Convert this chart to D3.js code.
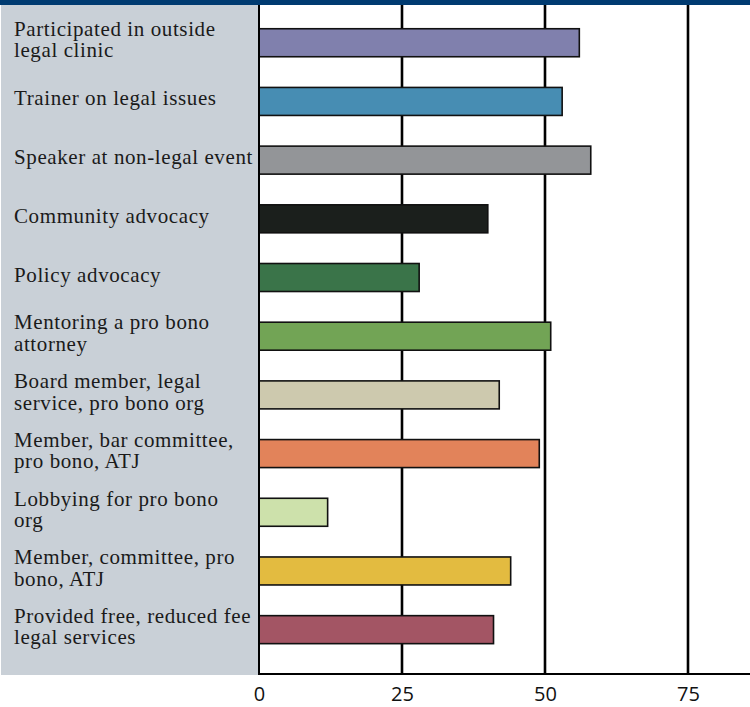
<!DOCTYPE html>
<html>
<head>
<meta charset="utf-8">
<script src="https://cdn.jsdelivr.net/npm/d3@7"></script>
<style>
  html, body { margin: 0; padding: 0; background: #ffffff; }
  svg { display: block; }
</style>
</head>
<body>
<svg id="chart" width="750" height="707"></svg>
<script>
const categories = [
  "Participated in outside|legal clinic",
  "Trainer on legal issues",
  "Speaker at non-legal event",
  "Community advocacy",
  "Policy advocacy",
  "Mentoring a pro bono|attorney",
  "Board member, legal|service, pro bono org",
  "Member, bar committee,|pro bono, ATJ",
  "Lobbying for pro bono|org",
  "Member, committee, pro|bono, ATJ",
  "Provided free, reduced fee|legal services"
];
const values = [56, 53, 58, 40, 28, 51, 42, 49, 12, 44, 41];
const colors = ["#8080ad", "#478db3", "#939598", "#1b1f1c", "#3a7449", "#72a455",
                "#cdc9ae", "#e2835a", "#cde1ab", "#e3bb40", "#a35564"];
const tickValues = [0, 25, 50, 75];

const svg = d3.select("#chart");
const W = 750, H = 707;
const plotLeft = 259, plotRight = 750, plotTop = 5, plotBottom = 674;

const x = d3.scaleLinear().domain([0, 85.84]).range([plotLeft, plotRight]);
const y = d3.scaleBand().domain(d3.range(categories.length)).range([13.4, 659]).paddingInner(0.523).paddingOuter(0.2615);

// label panel
svg.append("rect").attr("x", 1).attr("y", plotTop).attr("width", plotLeft - 1).attr("height", plotBottom + 1 - plotTop)
  .attr("fill", "#c9d0d7");

// gridlines
svg.append("g").selectAll("line").data(tickValues.filter(d => d > 0)).join("line")
  .attr("x1", d => x(d)).attr("x2", d => x(d))
  .attr("y1", plotTop).attr("y2", plotBottom)
  .attr("stroke", "#000").attr("stroke-width", 2.6);

// bars
svg.append("g").selectAll("rect").data(values).join("rect")
  .attr("x", x(0))
  .attr("y", (d, i) => y(i))
  .attr("width", d => x(d) - x(0))
  .attr("height", y.bandwidth())
  .attr("fill", (d, i) => colors[i])
  .attr("stroke", "#111")
  .attr("stroke-width", 1.6);

// axis lines
svg.append("line").attr("x1", x(0)).attr("x2", x(0)).attr("y1", plotTop).attr("y2", plotBottom)
  .attr("stroke", "#000").attr("stroke-width", 2);
svg.append("line").attr("x1", x(0) - 1).attr("x2", plotRight).attr("y1", plotBottom).attr("y2", plotBottom)
  .attr("stroke", "#000").attr("stroke-width", 2.2);

// top bar
svg.append("rect").attr("x", 0).attr("y", 0).attr("width", W).attr("height", 5).attr("fill", "#003b71");

// x axis labels
const xAxis = d3.axisBottom(x).tickValues(tickValues).tickSize(0).tickPadding(0).tickFormat(d3.format("d"));
const gx = svg.append("g").attr("transform", `translate(0,${plotBottom})`).call(xAxis);
gx.select(".domain").remove();
gx.selectAll("text")
  .attr("dy", null).attr("y", 27)
  .attr("font-family", "'Open Sans', sans-serif")
  .attr("font-size", 20)
  .attr("fill", "#111");

// category labels
const lh = 21.5;
const lab = svg.append("g");
categories.forEach((c, i) => {
  const lines = c.split("|");
  const cy = y(i) + y.bandwidth() / 2;
  const t = lab.append("text")
    .attr("font-family", "'Liberation Serif', 'Times New Roman', serif")
    .attr("font-size", 21)
    .attr("letter-spacing", 0.6)
    .attr("fill", "#1a1a1a");
  lines.forEach((ln, k) => {
    t.append("tspan").attr("x", 14)
      .attr("y", cy + (k - (lines.length - 1) / 2) * lh + 4)
      .text(ln);
  });
});
</script>
</body>
</html>
